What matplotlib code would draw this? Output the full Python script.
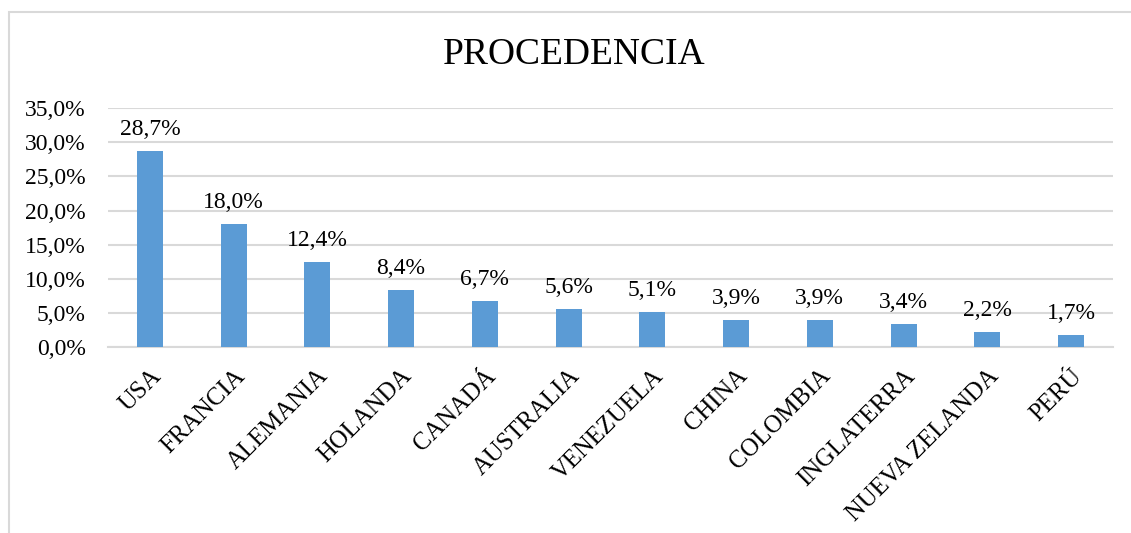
import matplotlib.pyplot as plt
from matplotlib.patches import Rectangle

# Data
paises = ['USA', 'FRANCIA', 'ALEMANIA', 'HOLANDA', 'CANADÁ', 'AUSTRALIA',
          'VENEZUELA', 'CHINA', 'COLOMBIA', 'INGLATERRA', 'NUEVA ZELANDA', 'PERÚ']
porcentajes = [28.7, 18.0, 12.4, 8.4, 6.7, 5.6, 5.1, 3.9, 3.9, 3.4, 2.2, 1.7]
yticks = [0, 5, 10, 15, 20, 25, 30, 35]

plt.rcParams['font.family'] = ['Liberation Serif', 'DejaVu Serif']

fig = plt.figure(figsize=(11.31, 5.33), dpi=100, facecolor='w')
ax = fig.add_axes([0.0955, 0.349, 0.8885, 0.448])

# chart border (only top and left visible in the frame)
fig.patches.append(Rectangle((9/1131, -0.1), 1.2, 1 - 12/533 + 0.1, transform=fig.transFigure,
                             fill=False, edgecolor='#D9D9D9', linewidth=1.5))

x = range(len(paises))
ax.bar(x, porcentajes, width=0.31, color='#5B9BD5', zorder=3)

for i, v in enumerate(porcentajes):
    ax.text(i, v + 1.6, '{:.1f}%'.format(v).replace('.', ','), ha='center', va='bottom',
            fontsize=17, color='black')

ax.set_xlim(-0.5, len(paises) - 0.5)
ax.set_ylim(0, 35)
ax.set_yticks(yticks)
ax.set_yticklabels(['{:.1f}%'.format(t).replace('.', ',') for t in yticks], fontsize=17)
ax.set_xticks(list(x))
ax.set_xticklabels(paises, rotation=45, ha='right', rotation_mode='anchor', fontsize=17.8)
ax.tick_params(axis='both', length=0)
ax.tick_params(axis='x', pad=13)
ax.tick_params(axis='y', pad=16)

ax.grid(axis='y', color='#D9D9D9', linewidth=1.5, zorder=0)
for s in ['top', 'right', 'left']:
    ax.spines[s].set_visible(False)
ax.spines['bottom'].set_color('#D9D9D9')
ax.spines['bottom'].set_linewidth(1.5)

fig.text(0.508, 0.897, 'PROCEDENCIA', ha='center', va='center', fontsize=27)

plt.savefig('out.png', dpi=100)
